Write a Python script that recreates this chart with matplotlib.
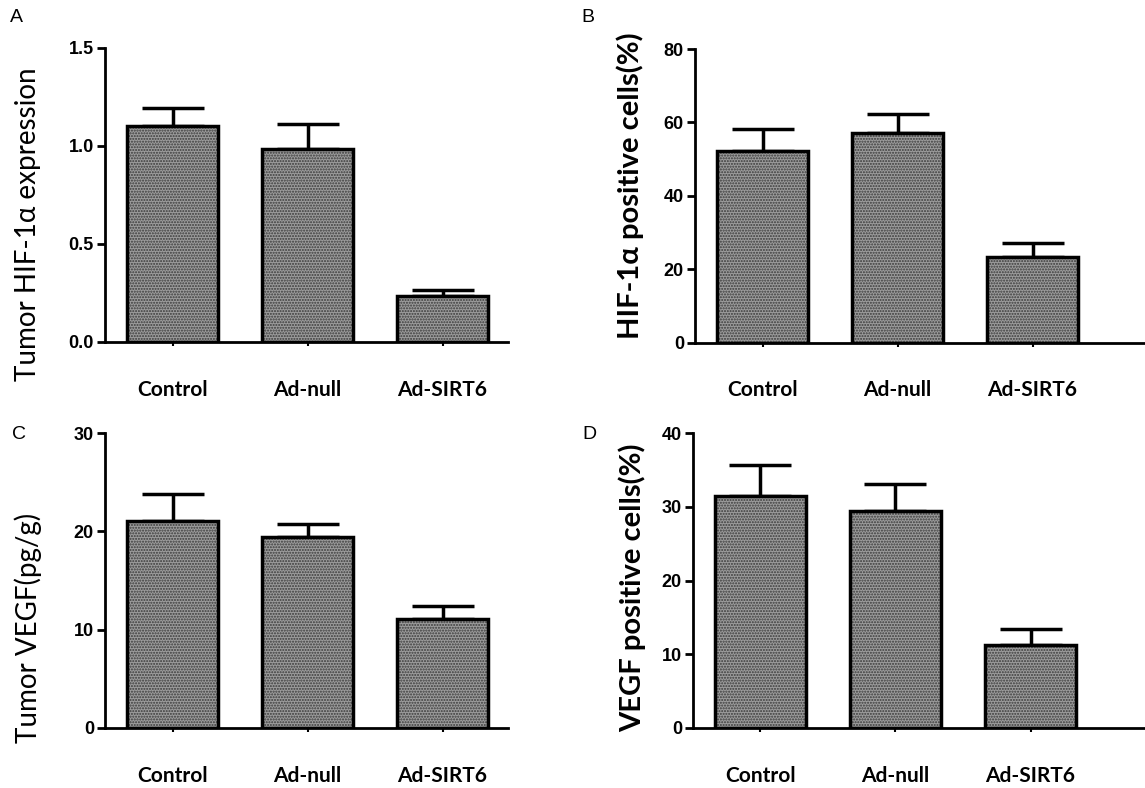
import matplotlib
matplotlib.use("Agg")
import matplotlib.pyplot as plt
import numpy as np

categories = ["Control", "Ad-null", "Ad-SIRT6"]

a_means = [1.10, 0.985, 0.235]
a_errs = [0.095, 0.125, 0.03]
a_ticks = [0.0, 0.5, 1.0, 1.5]
a_ticklabels = ["0.0", "0.5", "1.0", "1.5"]

b_means = [52.2, 57.1, 23.4]
b_errs = [6.0, 5.2, 3.8]
b_ticks = [0, 20, 40, 60, 80]

c_means = [21.1, 19.4, 11.1]
c_errs = [2.7, 1.35, 1.3]
c_ticks = [0, 10, 20, 30]

d_means = [31.5, 29.4, 11.3]
d_errs = [4.2, 3.7, 2.1]
d_ticks = [0, 10, 20, 30, 40]

W, H = 1145, 788
fig = plt.figure(figsize=(W / 100, H / 100), dpi=100)

num_font = ["Liberation Sans Narrow", "Liberation Sans", "DejaVu Sans"]
cat_font = ["Lato", "DejaVu Sans"]


def add_panel(left, right, top, bottom, xspan_units, means, errs, ticks, ticklabels,
              ylabel, ylabel_x, ylabel_y, ylabel_bold, ylabel_size, letter, letter_xy):
    ax = fig.add_axes([left / W, 1 - bottom / H, (right - left) / W, (bottom - top) / H])
    x = np.arange(len(categories))
    # textured fill
    ax.bar(x, means, width=0.67, color="#9c9c9c", edgecolor="#3a3a3a",
           hatch="......", linewidth=0, zorder=2)
    # outline
    ax.bar(x, means, width=0.67, color="none", edgecolor="black", linewidth=2.5, zorder=3)
    ax.errorbar(x, means, yerr=[np.zeros(len(means)), errs], fmt="none",
                ecolor="black", elinewidth=2.5, capsize=22, capthick=2.5, zorder=1)
    ax.set_xlim(-0.5, -0.5 + xspan_units)
    ax.set_ylim(ticks[0], ticks[-1])
    ax.set_yticks(ticks)
    ax.set_yticklabels(ticklabels, fontfamily=num_font, fontweight="bold", fontsize=13)
    ax.set_xticks(x)
    ax.set_xticklabels(categories, fontfamily=cat_font, fontweight="bold", fontsize=15)
    ax.tick_params(axis="x", length=3, width=1.5, pad=24)
    ax.tick_params(axis="y", length=6, width=2, pad=2)
    for s in ["top", "right"]:
        ax.spines[s].set_visible(False)
    for s in ["left", "bottom"]:
        ax.spines[s].set_linewidth(2)
    fig.text(ylabel_x / W, 1 - ylabel_y / H, ylabel, rotation=90,
             ha="center", va="center", fontfamily=cat_font,
             fontweight="bold" if ylabel_bold else "normal", fontsize=ylabel_size)
    fig.text(letter_xy[0] / W, 1 - letter_xy[1] / H, letter, ha="left", va="center",
             fontfamily=["Liberation Sans", "DejaVu Sans"], fontsize=14)
    return ax


px_per_unit = 135.0
add_panel(105, 508, 48, 342, (508 - 105) / px_per_unit, a_means, a_errs, a_ticks, a_ticklabels,
          "Tumor HIF-1α expression", 28, 224, False, 20, "A", (10, 18))
add_panel(695, 1160, 49, 343, (1160 - 695) / px_per_unit, b_means, b_errs, b_ticks,
          [str(t) for t in b_ticks], "HIF-1α positive cells(%)", 630, 186, True, 21, "B", (581, 18))
add_panel(105, 508, 433, 728, (508 - 105) / px_per_unit, c_means, c_errs, c_ticks,
          [str(t) for t in c_ticks], "Tumor VEGF(pg/g)", 28, 628, False, 20, "C", (12, 435))
add_panel(693, 1160, 433, 728, (1160 - 693) / px_per_unit, d_means, d_errs, d_ticks,
          [str(t) for t in d_ticks], "VEGF positive cells(%)", 632, 588, True, 21, "D", (582, 435))

fig.savefig("out.png", dpi=100)
